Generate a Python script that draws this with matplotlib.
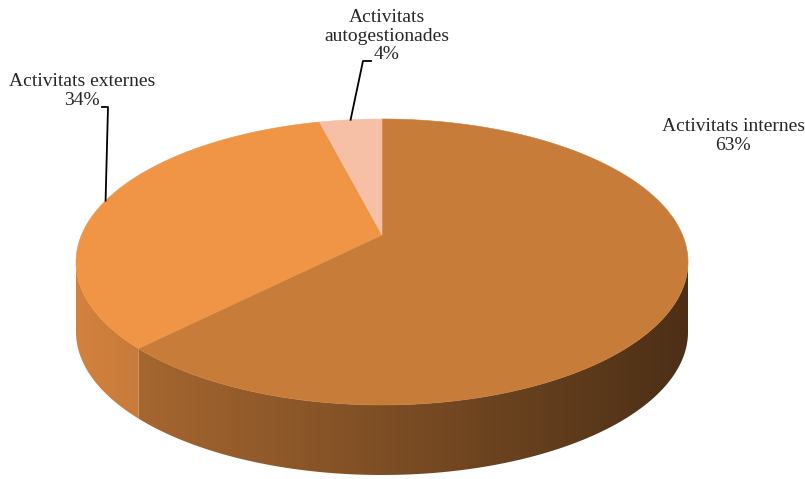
import numpy as np
import matplotlib.pyplot as plt
from matplotlib.patches import Polygon
from matplotlib.colors import to_rgb

# --- DATA ---
labels = ["Activitats internes", "Activitats externes", "Activitats\nautogestionades"]
values = [63, 34, 4]
top_colors = ["#C87C3A", "#F09446", "#F5C0A5"]

# --- SETTINGS ---
plt.rcParams["font.family"] = ["Liberation Serif", "DejaVu Serif"]
W, H = 805, 479

# pie geometry in pixels (perspective-tilted disc)
CX, CY = 382, 235      # projected centre of the disc
RX, RY = 300.5, 137.9  # scale of the projection
K = 0.1888             # perspective strength
DEPTH = 70             # thickness of the disc


def rim(theta_deg):
    """Point on the disc rim; theta measured clockwise from 12 o'clock."""
    t = np.radians(theta_deg)
    u, v = np.sin(t), -np.cos(t)
    w = 1 - K * v
    return CX + RX * u / w, CY + RY * v / w


# front arc where the side wall is visible
front_lo = np.degrees(np.arccos(-K))
front_hi = 360 - front_lo

fracs = np.array(values, dtype=float) / sum(values)
bounds = np.concatenate([[0], np.cumsum(fracs) * 360])

fig = plt.figure(figsize=(W / 100, H / 100), dpi=100)
ax = fig.add_axes([0, 0, 1, 1])
ax.set_xlim(0, W)
ax.set_ylim(H, 0)
ax.axis("off")

# --- SIDE WALLS (horizontal gradient clipped to each wall) ---
x_left, x_right = CX - RX * 1.02, CX + RX * 1.02
gx = np.linspace(0, 1, 400)
for i in range(len(values)):
    a0 = max(bounds[i], front_lo)
    a1 = min(bounds[i + 1], front_hi)
    if a1 <= a0:
        continue
    ts = np.linspace(a0, a1, 300)
    xs, ys = rim(ts)
    pts = np.column_stack([np.r_[xs, xs[::-1]], np.r_[ys, ys[::-1] + DEPTH]])
    wall = Polygon(pts, closed=True, fc="none", ec="none")
    ax.add_patch(wall)
    base = np.array(to_rgb(top_colors[i]))
    shade = 0.88 - 0.50 * gx
    grad = np.clip(base[None, :] * shade[:, None], 0, 1)[None, :, :]
    im = ax.imshow(grad, extent=[x_left, x_right, H, 0], aspect="auto",
                   interpolation="bilinear", zorder=1)
    im.set_clip_path(wall)

# --- TOP FACE ---
for i in range(len(values)):
    ts = np.linspace(bounds[i], bounds[i + 1], 200)
    xs, ys = rim(ts)
    ax.fill(np.r_[CX, xs], np.r_[CY, ys], color=top_colors[i], lw=0.4,
            ec=top_colors[i], zorder=2)

ax.set_xlim(0, W)
ax.set_ylim(H, 0)

# --- LABELS ---
text_kw = dict(fontsize=14, color="#262626", ha="center", va="center",
               linespacing=1.1)
mids = (bounds[:-1] + bounds[1:]) / 2

ax.text(733, 136, f"{labels[0]}\n{values[0]}%", **text_kw)
ax.text(82, 91, f"{labels[1]}\n{values[1]}%", **text_kw)
ax.text(387, 36, f"{labels[2]}\n{values[2]}%", **text_kw)

# leader lines
ex, ey = rim(mids[1])
ax.plot([102, 108, ex], [107, 107, ey], color="black", lw=1.3, zorder=3)
ax_, ay_ = rim(mids[2])
ax.plot([371, 363, ax_], [61, 61, ay_], color="black", lw=1.3, zorder=3)

fig.savefig("out.png", dpi=100)
plt.close(fig)
